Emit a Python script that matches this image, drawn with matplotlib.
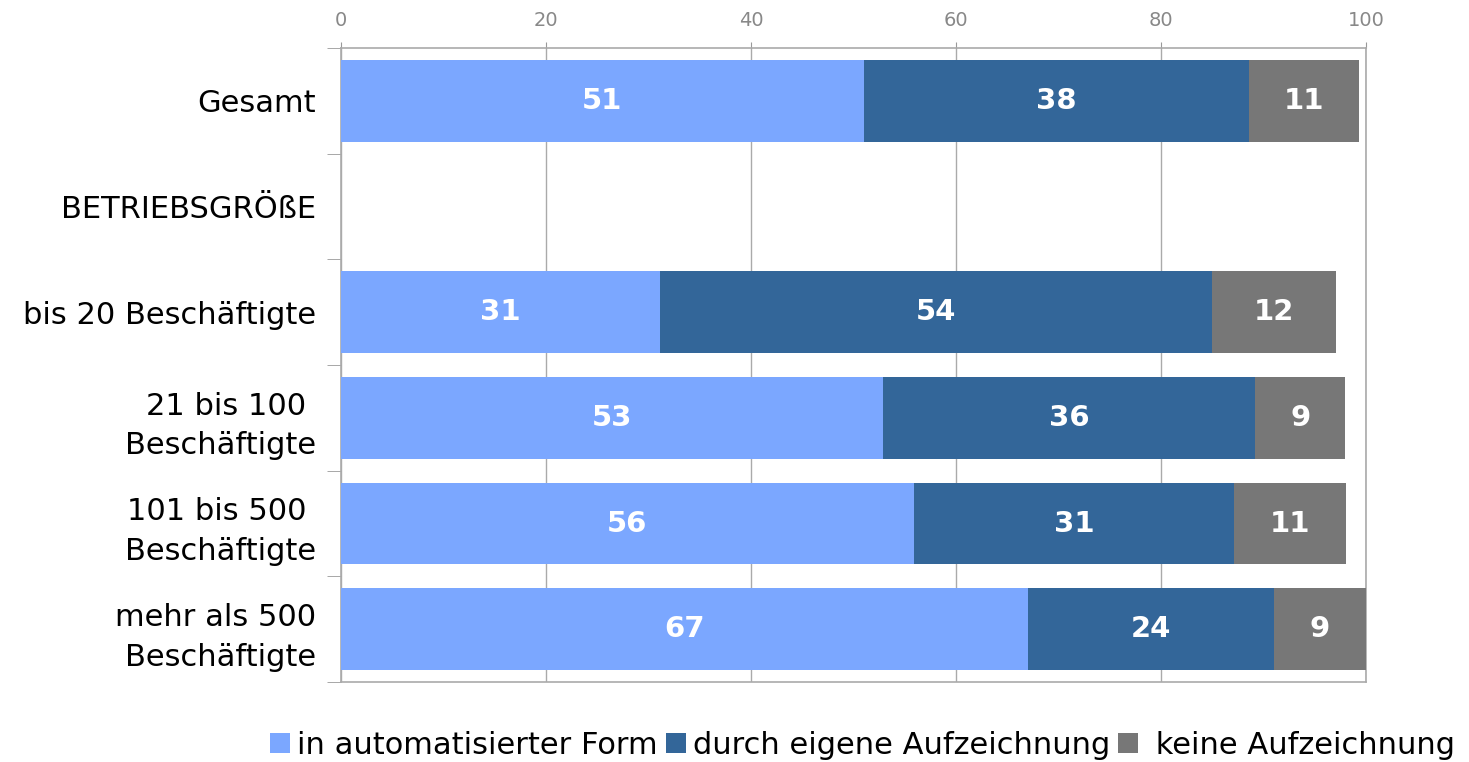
import matplotlib
matplotlib.use("Agg")
import matplotlib.pyplot as plt
import numpy as np

categories = ["Gesamt", "BETRIEBSGRÖßE", "bis 20 Beschäftigte", "21 bis 100 \nBeschäftigte",
              "101 bis 500 \nBeschäftigte", "mehr als 500\nBeschäftigte"]
auto = [51.0, np.nan, 31.1, 52.9, 55.9, 67.0]
eigene = [37.6, np.nan, 53.9, 36.3, 31.2, 24.0]
keine = [10.7, np.nan, 12.1, 8.8, 10.9, 9.0]
series_names = ["in automatisierter Form", "durch eigene Aufzeichnung", " keine Aufzeichnung"]
colors = ["#7BA7FF", "#336699", "#777777"]

plt.rcParams['font.family'] = ['DejaVu Sans']
fig = plt.figure(figsize=(14.69, 7.62), dpi=100)
ax = fig.add_axes([341/1469, 1-682/762, (1366-341)/1469, (682-48)/762])

y = np.arange(len(categories))
left = np.zeros(len(categories))
data = [auto, eigene, keine]
for vals, col, name in zip(data, colors, series_names):
    v = np.nan_to_num(np.array(vals, dtype=float))
    ax.barh(y, v, left=left, height=0.77, color=col, label=name, zorder=3)
    for yi, (l, w, raw) in enumerate(zip(left, v, vals)):
        if not np.isnan(raw):
            ax.text(l + w/2, yi, f"{raw:.0f}", ha="center", va="center", color="white",
                    fontsize=21, fontweight="bold", zorder=4)
    left = left + v

ax.set_xlim(0, 100)
ax.set_ylim(len(categories)-0.5, -0.5)
ax.set_xticks(np.arange(0, 101, 20))
ax.xaxis.tick_top()
ax.tick_params(axis="x", colors="#999999", labelcolor="#888888", labelsize=14, length=4, pad=9)
ax.set_yticks(y)
ax.set_yticklabels(categories, fontsize=22, color="black", ha="right", linespacing=1.45)
ax.set_yticks(np.arange(-0.5, len(categories)), minor=True)
ax.tick_params(axis="y", which="major", length=0, pad=18)
ax.tick_params(axis="y", which="minor", length=10, color="#999999")
ax.grid(axis="x", color="#aaaaaa", linewidth=1, zorder=0)
for s in ax.spines.values():
    s.set_color("#aaaaaa")
    s.set_linewidth(1.2)

handles, labels = ax.get_legend_handles_labels()
fig.legend(handles, labels, loc="center", bbox_to_anchor=(0.587, 1-745/762), ncol=3,
           frameon=False, fontsize=22, handlelength=0.65, handleheight=0.65,
           handletextpad=0.25, columnspacing=0.25)

fig.savefig("out.png", dpi=100)
